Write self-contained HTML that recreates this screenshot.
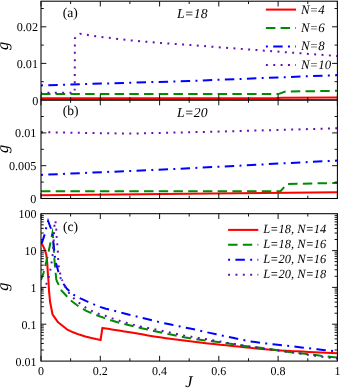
<!DOCTYPE html>
<html><head><meta charset="utf-8"><title>g vs J</title>
<style>html,body{margin:0;padding:0;background:#fff;}svg{display:block;will-change:transform;}text{text-rendering:geometricPrecision;font-family:"Liberation Serif",serif;fill:#000;}</style>
</head><body>
<svg width="341" height="388" viewBox="0 0 341 388">
<defs>
<clipPath id="ca"><rect x="41.0" y="1.2" width="297.0" height="98.8"/></clipPath>
<clipPath id="cb"><rect x="41.0" y="100.0" width="297.0" height="98.5"/></clipPath>
<clipPath id="cc"><rect x="41.0" y="213.7" width="297.0" height="147.4"/></clipPath>
</defs>
<rect width="341" height="388" fill="#fff"/>
<g clip-path="url(#ca)">
<path d="M41.0 98.3 L276.6 98.1 L282.6 97.8 L337.4 97.5" fill="none" stroke="#ff0000" stroke-width="2.05" />
<path d="M41.0 94.1 L278.1 94.1 L285.5 91.6 L337.4 90.8" fill="none" stroke="#008b00" stroke-width="2.0" stroke-dasharray="9.45 5.27" />
<path d="M41.0 85.4 L189.2 81.0 L337.4 75.1" fill="none" stroke="#0000ff" stroke-width="2.0" stroke-dasharray="1.95 5.35 9.45 5.33" />
<path d="M41.0 92.8 L74.7 92.8 L74.9 38.5 L76.2 36.2 L80.0 33.8 L101.2 37.0 L131.0 40.4 L160.4 43.0 L191.0 45.1 L221.0 47.4 L280.0 51.8 L337.4 56.0" fill="none" stroke="#6610b8" stroke-width="2.0" stroke-dasharray="1.95 5.41" stroke-dashoffset="0.9"/>
</g><g clip-path="url(#cb)">
<path d="M41.0 195.2 L337.4 192.3" fill="none" stroke="#ff0000" stroke-width="2.05" />
<path d="M41.0 191.2 L280.5 191.2 L287.0 184.1 L337.4 182.9" fill="none" stroke="#008b00" stroke-width="2.0" stroke-dasharray="9.45 5.27" />
<path d="M41.0 174.9 L189.2 168.3 L337.4 160.5" fill="none" stroke="#0000ff" stroke-width="2.0" stroke-dasharray="1.95 5.35 9.45 5.33" />
<path d="M41.0 132.2 L129.9 133.6 L218.8 131.6 L337.4 128.3" fill="none" stroke="#6610b8" stroke-width="2.0" stroke-dasharray="1.95 5.41" />
</g>
<g clip-path="url(#cc)">
<path d="M41.0 240.8 L41.8 243.4 L44.2 248.4 L46.2 254.1 L47.2 262.4 L47.9 273.9 L48.4 280.0 L49.0 290.6 L50.1 302.0 L52.5 314.3 L58.1 322.3 L66.9 329.3 L73.1 332.3 L79.2 334.6 L85.3 336.5 L91.5 338.1 L96.0 339.1 L100.6 340.0 L102.4 327.9 L107.9 328.8 L113.4 329.7 L118.9 330.5 L124.4 331.4 L129.9 332.3 L135.9 333.3 L141.9 334.3 L148.0 335.4 L154.0 336.4 L160.0 337.3 L166.0 338.2 L172.0 339.0 L178.0 339.8 L184.0 340.6 L190.0 341.3 L196.0 342.0 L202.0 342.7 L208.0 343.4 L214.0 344.0 L220.0 344.7 L226.0 345.3 L232.0 346.0 L238.0 346.6 L244.0 347.2 L250.0 347.8 L256.0 348.4 L262.0 348.9 L268.0 349.5 L274.0 350.0 L280.0 350.4 L285.7 350.7 L291.4 351.1 L297.2 351.3 L302.9 351.6 L308.6 351.9 L314.4 352.2 L320.1 352.5 L325.9 352.7 L331.6 353.0 L337.4 353.3" fill="none" stroke="#ff0000" stroke-width="2.05" stroke-linejoin="round"/>
<path d="M41.0 280.0 L43.6 272.6 L47.2 258.0 L50.0 245.0 L52.4 233.0 L53.5 240.5 L54.0 255.0 L55.4 270.3 L56.3 280.0" fill="none" stroke="#008b00" stroke-width="2.0" stroke-dasharray="9.45 5.27" stroke-miterlimit="10" stroke-dashoffset="0.00"/>
<path d="M56.3 280.0 L61.6 290.6 L70.4 300.2 L77.5 305.5 L86.3 310.8 L91.5 313.1 L96.8 315.2 L104.0 317.9 L110.8 320.2 L117.6 322.3 L123.5 323.9 L129.3 325.3 L135.2 326.7 L141.4 328.2 L147.6 329.6 L153.8 331.0 L160.0 332.3 L166.0 333.6 L172.0 334.8 L178.0 336.0 L184.0 337.2 L190.0 338.2 L196.0 339.1 L202.0 339.9 L208.0 340.7 L214.0 341.5 L220.0 342.3 L226.2 343.2 L232.3 344.1 L238.4 345.0 L244.6 345.9 L249.9 346.6 L255.2 347.2 L260.5 347.8 L265.8 348.5 L271.0 349.2 L276.3 349.9 L282.6 351.0 L289.0 352.0 L294.3 352.6 L299.7 353.2 L305.0 353.8 L310.3 354.5 L315.7 355.1 L321.0 355.8 L326.5 356.4 L331.9 357.0 L337.4 357.6" fill="none" stroke="#008b00" stroke-width="2.0" stroke-dasharray="9.45 5.27" stroke-dashoffset="3.99"/>
<path d="M41.0 249.0 L42.0 242.6 L44.8 234.0 L46.2 227.7 L48.1 221.0 L50.9 228.5 L52.5 234.7 L53.2 242.0 L54.2 249.7 L54.8 256.8 L56.2 263.8 L58.3 271.5 L60.7 278.5" fill="none" stroke="#0000ff" stroke-width="2.0" stroke-dasharray="1.95 5.35 9.45 5.33" stroke-miterlimit="10" stroke-dashoffset="1.60"/>
<path d="M60.7 278.5 L63.6 284.0 L66.9 288.8 L73.9 295.0 L81.0 298.7 L88.0 301.9 L95.0 304.8 L100.0 306.9 L105.9 308.7 L111.7 310.2 L117.6 311.7 L123.5 313.2 L129.3 314.7 L135.2 316.1 L141.0 317.6 L146.9 319.0 L152.7 320.5 L158.6 321.9 L164.4 323.2 L170.8 324.6 L177.2 325.9 L183.6 327.2 L190.0 328.5 L196.6 329.9 L203.2 331.4 L209.7 332.9 L216.3 334.3 L222.2 335.6 L228.1 336.9 L234.0 338.1 L239.3 339.2 L244.7 340.3 L250.0 341.3 L255.3 342.1 L260.5 342.8 L265.8 343.4 L272.9 344.2 L280.0 345.0 L285.4 345.6 L290.8 346.2 L296.1 346.8 L301.5 347.4 L306.9 348.0 L312.2 348.7 L317.6 349.3 L323.0 349.9 L330.2 350.7 L337.4 351.5" fill="none" stroke="#0000ff" stroke-width="2.0" stroke-dasharray="1.95 5.35 9.45 5.33" stroke-dashoffset="1.37"/>
<path d="M41.0 290.0 L46.0 285.0 L48.4 279.0 L50.0 272.0 L51.3 264.4 L52.5 256.8 L53.0 249.7 L53.6 241.7 L54.7 220.5 L55.4 221.2 L56.2 228.2 L56.6 235.9 L57.2 243.5 L57.8 250.3 L58.1 258.0 L58.6 265.6 L60.0 272.9 L62.0 279.7" fill="none" stroke="#6610b8" stroke-width="2.0" stroke-dasharray="1.95 5.41" stroke-miterlimit="10" stroke-dashoffset="0.00"/>
<path d="M62.0 279.7 L64.2 285.3 L68.6 292.3 L73.0 297.6 L79.2 302.9 L85.4 307.3 L91.5 310.8 L98.6 313.7 L105.3 315.8 L112.3 318.4 L119.4 320.8 L126.4 322.8 L133.5 324.8 L140.5 326.4 L147.9 327.9 L155.5 329.4 L161.8 330.8 L169.7 332.5 L176.7 334.0 L183.8 335.4 L191.3 336.7 L198.7 337.9 L205.8 339.1 L212.8 340.3 L220.0 341.5 L228.0 342.9 L235.0 344.1 L242.0 345.3 L249.0 346.4 L257.0 347.5 L264.0 348.6 L271.0 349.6 L278.0 350.5 L285.4 351.5 L292.5 352.5 L299.7 353.5 L306.8 354.6 L314.9 355.8 L322.0 356.8 L329.2 357.7 L337.4 358.6" fill="none" stroke="#6610b8" stroke-width="2.0" stroke-dasharray="1.95 5.41" stroke-dashoffset="0.75"/>
</g>
<rect x="41.0" y="1.2" width="296.4" height="98.8" fill="none" stroke="#000" stroke-width="1.05"/>
<rect x="41.0" y="100.0" width="296.4" height="98.5" fill="none" stroke="#000" stroke-width="1.05"/>
<rect x="41.0" y="213.7" width="296.4" height="147.4" fill="none" stroke="#000" stroke-width="1.05"/>
<path d="M41.0 1.2 v5.3 M41.0 100.0 v-5.3" stroke="#111" stroke-width="1.0"/>
<path d="M70.6 1.2 v2.8 M70.6 100.0 v-2.8" stroke="#111" stroke-width="1.0"/>
<path d="M100.3 1.2 v5.3 M100.3 100.0 v-5.3" stroke="#111" stroke-width="1.0"/>
<path d="M129.9 1.2 v2.8 M129.9 100.0 v-2.8" stroke="#111" stroke-width="1.0"/>
<path d="M159.6 1.2 v5.3 M159.6 100.0 v-5.3" stroke="#111" stroke-width="1.0"/>
<path d="M189.2 1.2 v2.8 M189.2 100.0 v-2.8" stroke="#111" stroke-width="1.0"/>
<path d="M218.8 1.2 v5.3 M218.8 100.0 v-5.3" stroke="#111" stroke-width="1.0"/>
<path d="M248.5 1.2 v2.8 M248.5 100.0 v-2.8" stroke="#111" stroke-width="1.0"/>
<path d="M278.1 1.2 v5.3 M278.1 100.0 v-5.3" stroke="#111" stroke-width="1.0"/>
<path d="M307.8 1.2 v2.8 M307.8 100.0 v-2.8" stroke="#111" stroke-width="1.0"/>
<path d="M337.4 1.2 v5.3 M337.4 100.0 v-5.3" stroke="#111" stroke-width="1.0"/>
<path d="M41.0 100.0 v5.3 M41.0 198.5 v-5.3" stroke="#111" stroke-width="1.0"/>
<path d="M70.6 100.0 v2.8 M70.6 198.5 v-2.8" stroke="#111" stroke-width="1.0"/>
<path d="M100.3 100.0 v5.3 M100.3 198.5 v-5.3" stroke="#111" stroke-width="1.0"/>
<path d="M129.9 100.0 v2.8 M129.9 198.5 v-2.8" stroke="#111" stroke-width="1.0"/>
<path d="M159.6 100.0 v5.3 M159.6 198.5 v-5.3" stroke="#111" stroke-width="1.0"/>
<path d="M189.2 100.0 v2.8 M189.2 198.5 v-2.8" stroke="#111" stroke-width="1.0"/>
<path d="M218.8 100.0 v5.3 M218.8 198.5 v-5.3" stroke="#111" stroke-width="1.0"/>
<path d="M248.5 100.0 v2.8 M248.5 198.5 v-2.8" stroke="#111" stroke-width="1.0"/>
<path d="M278.1 100.0 v5.3 M278.1 198.5 v-5.3" stroke="#111" stroke-width="1.0"/>
<path d="M307.8 100.0 v2.8 M307.8 198.5 v-2.8" stroke="#111" stroke-width="1.0"/>
<path d="M337.4 100.0 v5.3 M337.4 198.5 v-5.3" stroke="#111" stroke-width="1.0"/>
<path d="M41.0 213.7 v5.3 M41.0 361.1 v-5.3" stroke="#111" stroke-width="1.0"/>
<path d="M70.6 213.7 v2.8 M70.6 361.1 v-2.8" stroke="#111" stroke-width="1.0"/>
<path d="M100.3 213.7 v5.3 M100.3 361.1 v-5.3" stroke="#111" stroke-width="1.0"/>
<path d="M129.9 213.7 v2.8 M129.9 361.1 v-2.8" stroke="#111" stroke-width="1.0"/>
<path d="M159.6 213.7 v5.3 M159.6 361.1 v-5.3" stroke="#111" stroke-width="1.0"/>
<path d="M189.2 213.7 v2.8 M189.2 361.1 v-2.8" stroke="#111" stroke-width="1.0"/>
<path d="M218.8 213.7 v5.3 M218.8 361.1 v-5.3" stroke="#111" stroke-width="1.0"/>
<path d="M248.5 213.7 v2.8 M248.5 361.1 v-2.8" stroke="#111" stroke-width="1.0"/>
<path d="M278.1 213.7 v5.3 M278.1 361.1 v-5.3" stroke="#111" stroke-width="1.0"/>
<path d="M307.8 213.7 v2.8 M307.8 361.1 v-2.8" stroke="#111" stroke-width="1.0"/>
<path d="M337.4 213.7 v5.3 M337.4 361.1 v-5.3" stroke="#111" stroke-width="1.0"/>
<path d="M41.0 63.4 h5.3 M337.4 63.4 h-5.3" stroke="#111" stroke-width="1.0"/>
<path d="M41.0 26.8 h5.3 M337.4 26.8 h-5.3" stroke="#111" stroke-width="1.0"/>
<path d="M41.0 81.7 h2.8 M337.4 81.7 h-2.8" stroke="#111" stroke-width="1.0"/>
<path d="M41.0 45.1 h2.8 M337.4 45.1 h-2.8" stroke="#111" stroke-width="1.0"/>
<path d="M41.0 8.5 h2.8 M337.4 8.5 h-2.8" stroke="#111" stroke-width="1.0"/>
<path d="M41.0 165.7 h5.3 M337.4 165.7 h-5.3" stroke="#111" stroke-width="1.0"/>
<path d="M41.0 132.9 h5.3 M337.4 132.9 h-5.3" stroke="#111" stroke-width="1.0"/>
<path d="M41.0 182.1 h2.8 M337.4 182.1 h-2.8" stroke="#111" stroke-width="1.0"/>
<path d="M41.0 149.3 h2.8 M337.4 149.3 h-2.8" stroke="#111" stroke-width="1.0"/>
<path d="M41.0 116.5 h2.8 M337.4 116.5 h-2.8" stroke="#111" stroke-width="1.0"/>
<path d="M41.0 324.2 h5.3 M337.4 324.2 h-5.3" stroke="#111" stroke-width="1.0"/>
<path d="M41.0 287.4 h5.3 M337.4 287.4 h-5.3" stroke="#111" stroke-width="1.0"/>
<path d="M41.0 250.6 h5.3 M337.4 250.6 h-5.3" stroke="#111" stroke-width="1.0"/>
<path d="M41.0 350.0 h2.8 M337.4 350.0 h-2.8" stroke="#111" stroke-width="1.0"/>
<path d="M41.0 343.5 h2.8 M337.4 343.5 h-2.8" stroke="#111" stroke-width="1.0"/>
<path d="M41.0 338.9 h2.8 M337.4 338.9 h-2.8" stroke="#111" stroke-width="1.0"/>
<path d="M41.0 335.3 h2.8 M337.4 335.3 h-2.8" stroke="#111" stroke-width="1.0"/>
<path d="M41.0 332.4 h2.8 M337.4 332.4 h-2.8" stroke="#111" stroke-width="1.0"/>
<path d="M41.0 330.0 h2.8 M337.4 330.0 h-2.8" stroke="#111" stroke-width="1.0"/>
<path d="M41.0 327.8 h2.8 M337.4 327.8 h-2.8" stroke="#111" stroke-width="1.0"/>
<path d="M41.0 325.9 h2.8 M337.4 325.9 h-2.8" stroke="#111" stroke-width="1.0"/>
<path d="M41.0 313.2 h2.8 M337.4 313.2 h-2.8" stroke="#111" stroke-width="1.0"/>
<path d="M41.0 306.7 h2.8 M337.4 306.7 h-2.8" stroke="#111" stroke-width="1.0"/>
<path d="M41.0 302.1 h2.8 M337.4 302.1 h-2.8" stroke="#111" stroke-width="1.0"/>
<path d="M41.0 298.5 h2.8 M337.4 298.5 h-2.8" stroke="#111" stroke-width="1.0"/>
<path d="M41.0 295.6 h2.8 M337.4 295.6 h-2.8" stroke="#111" stroke-width="1.0"/>
<path d="M41.0 293.1 h2.8 M337.4 293.1 h-2.8" stroke="#111" stroke-width="1.0"/>
<path d="M41.0 291.0 h2.8 M337.4 291.0 h-2.8" stroke="#111" stroke-width="1.0"/>
<path d="M41.0 289.1 h2.8 M337.4 289.1 h-2.8" stroke="#111" stroke-width="1.0"/>
<path d="M41.0 276.3 h2.8 M337.4 276.3 h-2.8" stroke="#111" stroke-width="1.0"/>
<path d="M41.0 269.8 h2.8 M337.4 269.8 h-2.8" stroke="#111" stroke-width="1.0"/>
<path d="M41.0 265.2 h2.8 M337.4 265.2 h-2.8" stroke="#111" stroke-width="1.0"/>
<path d="M41.0 261.6 h2.8 M337.4 261.6 h-2.8" stroke="#111" stroke-width="1.0"/>
<path d="M41.0 258.7 h2.8 M337.4 258.7 h-2.8" stroke="#111" stroke-width="1.0"/>
<path d="M41.0 256.3 h2.8 M337.4 256.3 h-2.8" stroke="#111" stroke-width="1.0"/>
<path d="M41.0 254.1 h2.8 M337.4 254.1 h-2.8" stroke="#111" stroke-width="1.0"/>
<path d="M41.0 252.2 h2.8 M337.4 252.2 h-2.8" stroke="#111" stroke-width="1.0"/>
<path d="M41.0 239.5 h2.8 M337.4 239.5 h-2.8" stroke="#111" stroke-width="1.0"/>
<path d="M41.0 233.0 h2.8 M337.4 233.0 h-2.8" stroke="#111" stroke-width="1.0"/>
<path d="M41.0 228.4 h2.8 M337.4 228.4 h-2.8" stroke="#111" stroke-width="1.0"/>
<path d="M41.0 224.8 h2.8 M337.4 224.8 h-2.8" stroke="#111" stroke-width="1.0"/>
<path d="M41.0 221.9 h2.8 M337.4 221.9 h-2.8" stroke="#111" stroke-width="1.0"/>
<path d="M41.0 219.4 h2.8 M337.4 219.4 h-2.8" stroke="#111" stroke-width="1.0"/>
<path d="M41.0 217.3 h2.8 M337.4 217.3 h-2.8" stroke="#111" stroke-width="1.0"/>
<path d="M41.0 215.4 h2.8 M337.4 215.4 h-2.8" stroke="#111" stroke-width="1.0"/>
<path d="M265.9 9.6 L296.0 9.6" fill="none" stroke="#ff0000" stroke-width="2.05" />
<text x="301.0" y="13.5" font-size="12.85" text-anchor="start" font-style="italic" >N=4</text>
<path d="M265.9 28.1 L296.0 28.1" fill="none" stroke="#008b00" stroke-width="2.0" stroke-dasharray="9.45 5.27" />
<text x="301.0" y="32.0" font-size="12.85" text-anchor="start" font-style="italic" >N=6</text>
<path d="M265.9 46.5 L296.0 46.5" fill="none" stroke="#0000ff" stroke-width="2.0" stroke-dasharray="1.95 5.35 9.45 5.33" />
<text x="301.0" y="50.4" font-size="12.85" text-anchor="start" font-style="italic" >N=8</text>
<path d="M265.9 65.0 L296.0 65.0" fill="none" stroke="#6610b8" stroke-width="2.0" stroke-dasharray="1.95 5.41" />
<text x="301.0" y="68.9" font-size="12.85" text-anchor="start" font-style="italic" >N=10</text>
<path d="M228.1 229.9 L258.3 229.9" fill="none" stroke="#ff0000" stroke-width="2.05" />
<text x="263.2" y="232.9" font-size="12.45" text-anchor="start" font-style="italic" >L=18, N=14</text>
<path d="M228.1 244.8 L258.3 244.8" fill="none" stroke="#008b00" stroke-width="2.0" stroke-dasharray="9.45 5.27" />
<text x="263.2" y="247.8" font-size="12.45" text-anchor="start" font-style="italic" >L=18, N=16</text>
<path d="M228.1 259.8 L258.3 259.8" fill="none" stroke="#0000ff" stroke-width="2.0" stroke-dasharray="1.95 5.35 9.45 5.33" />
<text x="263.2" y="262.8" font-size="12.45" text-anchor="start" font-style="italic" >L=20, N=16</text>
<path d="M228.1 274.8 L258.3 274.8" fill="none" stroke="#6610b8" stroke-width="2.0" stroke-dasharray="1.95 5.41" />
<text x="263.2" y="277.8" font-size="12.45" text-anchor="start" font-style="italic" >L=20, N=18</text>
<text x="62.7" y="16.5" font-size="13.6" text-anchor="start" >(a)</text>
<text x="62.7" y="115.1" font-size="13.6" text-anchor="start" >(b)</text>
<text x="63.0" y="230.5" font-size="13.6" text-anchor="start" >(c)</text>
<text x="177.0" y="17.6" font-size="13.7" text-anchor="start" font-style="italic" >L=18</text>
<text x="177.0" y="116.8" font-size="13.7" text-anchor="start" font-style="italic" >L=20</text>
<text x="38.3" y="104.6" font-size="12.2" text-anchor="end" >0</text>
<text x="38.0" y="67.5" font-size="12.2" text-anchor="end" >0.01</text>
<text x="38.0" y="30.9" font-size="12.2" text-anchor="end" >0.02</text>
<text x="36.4" y="202.8" font-size="12.2" text-anchor="end" >0</text>
<text x="36.4" y="170.0" font-size="12.2" text-anchor="end" >0.005</text>
<text x="36.4" y="137.2" font-size="12.2" text-anchor="end" >0.01</text>
<text x="36.6" y="218.2" font-size="12" text-anchor="end" >100</text>
<text x="36.6" y="255.1" font-size="12" text-anchor="end" >10</text>
<text x="36.6" y="291.9" font-size="12" text-anchor="end" >1</text>
<text x="36.6" y="328.8" font-size="12" text-anchor="end" >0.1</text>
<text x="36.6" y="365.6" font-size="12" text-anchor="end" >0.01</text>
<text x="41.0" y="375.3" font-size="12" text-anchor="middle" >0</text>
<text x="100.3" y="375.3" font-size="12" text-anchor="middle" >0.2</text>
<text x="159.6" y="375.3" font-size="12" text-anchor="middle" >0.4</text>
<text x="218.8" y="375.3" font-size="12" text-anchor="middle" >0.6</text>
<text x="278.1" y="375.3" font-size="12" text-anchor="middle" >0.8</text>
<text x="337.4" y="375.3" font-size="12" text-anchor="middle" >1</text>
<text x="188.8" y="387.0" font-size="16.4" text-anchor="middle" font-style="italic" >J</text>
<text transform="translate(8.2,49.96) rotate(-90)" x="0" y="0" font-size="16.4" text-anchor="start" font-style="italic" >g</text>
<text transform="translate(8.2,153.01) rotate(-90)" x="0" y="0" font-size="16.4" text-anchor="start" font-style="italic" >g</text>
<text transform="translate(8.2,290.81) rotate(-90)" x="0" y="0" font-size="16.4" text-anchor="start" font-style="italic" >g</text>
</svg>
</body></html>
